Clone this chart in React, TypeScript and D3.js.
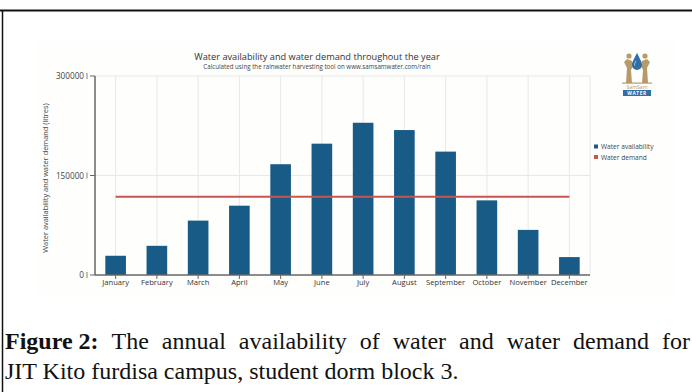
import React, { useLayoutEffect, useRef, useState } from "react";
import * as d3 from "d3";

// Monthly figures (litres)
const months = [
  "January", "February", "March", "April", "May", "June",
  "July", "August", "September", "October", "November", "December",
];
const availability = [
  29000, 44000, 82000, 104500, 167000, 198000,
  229500, 218500, 186000, 112500, 68000, 27000,
];
const demand = [
  118000, 118000, 118000, 118000, 118000, 118000,
  118000, 118000, 118000, 118000, 118000, 118000,
];
const yTicks = [0, 150000, 300000];

const legendItems = [
  { label: "Water availability", color: "#185b86" },
  { label: "Water demand", color: "#c8554f" },
];

const captionLabel = "Figure 2:";
const captionLine1 = "The annual availability of water and water demand for";
const captionLine2 = "JIT Kito furdisa campus, student dorm block 3.";

const W = 692;
const H = 392;
const plot = { left: 95, right: 590, top: 76, bottom: 275 };
const sans = "'Open Sans', 'Noto Sans', sans-serif";
const serif = "'Liberation Serif', 'DejaVu Serif', serif";
const captionSize = 24;

export default function App() {
  const x = d3
    .scaleBand<string>()
    .domain(months)
    .range([plot.left, plot.right])
    .paddingInner(0.5)
    .paddingOuter(0.25);
  const y = d3.scaleLinear().domain([0, 300000]).range([plot.bottom, plot.top]);
  const cx = (m: string) => (x(m) ?? 0) + x.bandwidth() / 2;

  const demandLine = d3
    .line<number>()
    .x((_, i) => cx(months[i]))
    .y((d) => y(d))(demand);

  // justify the first caption line by widening the word gaps
  const labelRef = useRef<SVGTextElement>(null);
  const line1Ref = useRef<SVGTextElement>(null);
  const [line1X, setLine1X] = useState(100);
  const [wordGap, setWordGap] = useState(0);
  useLayoutEffect(() => {
    const lab = labelRef.current;
    const l1 = line1Ref.current;
    if (!lab || !l1) return;
    const labW = lab.getComputedTextLength();
    const spaceW = captionSize * 0.25;
    const natural = l1.getComputedTextLength();
    const gaps = captionLine1.split(" ").length; // gap after label + inner gaps
    const extra = Math.max(0, (690 - 5 - labW - natural - spaceW) / gaps);
    setLine1X(5 + labW + spaceW + extra);
    setWordGap(extra);
  }, []);

  return (
    <svg
      width={W}
      height={H}
      viewBox={`0 0 ${W} ${H}`}
      style={{ position: "absolute", left: 0, top: 0, background: "#fff" }}
    >
      {/* figure frame */}
      <line x1={0} x2={W} y1={10.5} y2={10.5} stroke="#111" strokeWidth={2} />
      <line x1={2.5} x2={2.5} y1={10} y2={H} stroke="#111" strokeWidth={1.5} />

      {/* chart panel background */}
      <rect x={36} y={40} width={640} height={258} fill="#fefefd" />

      {/* titles */}
      <text x={317} y={60} textAnchor="middle" fontFamily={sans} fontSize={9.2} fill="#333">
        Water availability and water demand throughout the year
      </text>
      <text x={317} y={68.5} textAnchor="middle" fontFamily={sans} fontSize={6.2} fill="#444">
        Calculated using the rainwater harvesting tool on www.samsamwater.com/rain
      </text>

      {/* grid */}
      <g stroke="#e8e8e8" strokeWidth={1}>
        {yTicks.filter((t) => t > 0).map((t) => (
          <line key={t} x1={plot.left} x2={plot.right} y1={y(t)} y2={y(t)} />
        ))}
        {months.map((m) => (
          <line key={m} x1={cx(m)} x2={cx(m)} y1={plot.top} y2={plot.bottom} />
        ))}
        <line x1={plot.right} x2={plot.right} y1={plot.top} y2={plot.bottom} />
      </g>

      {/* bars */}
      {months.map((m, i) => (
        <rect
          key={m}
          x={x(m)}
          y={y(availability[i])}
          width={x.bandwidth()}
          height={y(0) - y(availability[i])}
          fill="#185b86"
        />
      ))}

      {/* demand line */}
      <path d={demandLine ?? ""} fill="none" stroke="#c8554f" strokeWidth={2} />

      {/* axes */}
      <line x1={plot.left} x2={plot.left} y1={plot.top} y2={plot.bottom} stroke="#666" strokeWidth={1.5} />
      <line x1={plot.left} x2={plot.right} y1={plot.bottom} y2={plot.bottom} stroke="#666" strokeWidth={1.5} />
      {yTicks.map((t) => (
        <g key={t}>
          <line x1={plot.left - 5} x2={plot.left} y1={y(t)} y2={y(t)} stroke="#666" />
          <line x1={87} x2={87} y1={y(t) - 3} y2={y(t) + 3} stroke="#666" strokeWidth={0.8} />
          <text x={84} y={y(t) + 3} textAnchor="end" fontFamily={sans} fontSize={8.2} fill="#444">
            {t}
          </text>
        </g>
      ))}
      {months.map((m) => (
        <g key={m}>
          <line x1={cx(m)} x2={cx(m)} y1={plot.bottom} y2={plot.bottom + 4} stroke="#666" />
          <text x={cx(m)} y={285} textAnchor="middle" fontFamily={sans} fontSize={7.6} fill="#333">
            {m}
          </text>
        </g>
      ))}
      <text
        transform="translate(48,178) rotate(-90)"
        textAnchor="middle"
        fontFamily={sans}
        fontSize={7.4}
        fill="#444"
      >
        Water availability and water demand (litres)
      </text>

      {/* legend */}
      {legendItems.map((it, i) => (
        <g key={it.label} transform={`translate(594,${147 + i * 10.5})`}>
          <rect x={0} y={-2.5} width={4} height={4} fill={it.color} />
          <text x={7} y={2} fontFamily={sans} fontSize={6.6} fill="#444">
            {it.label}
          </text>
        </g>
      ))}

      {/* SamSam Water logo */}
      <g>
        <circle cx={629} cy={56} r={2.6} fill="#b89a68" />
        <circle cx={645} cy={56} r={2.6} fill="#b89a68" />
        <path
          d="M626,83 L627,68 L624,62 L627,59 L632,61 L633,66 L631,70 L632,83 Z"
          fill="#b89a68"
        />
        <path
          d="M648,83 L647,68 L650,62 L647,59 L642,61 L641,66 L643,70 L642,83 Z"
          fill="#b89a68"
        />
        <path d="M637,53 C634,59 632,62 632,65 A5,5 0 0 0 642,65 C642,62 640,59 637,53 Z" fill="#2f6fa6" />
        <path d="M636,61 C635,63 634.5,64 634.5,65.5" stroke="#cfe2f3" strokeWidth={0.8} fill="none" />
        <rect x={622} y={82.5} width={30} height={1.2} fill="#b89a68" />
        <text x={637} y={89} textAnchor="middle" fontFamily={sans} fontSize={5.2} fill="#b89a68">
          SamSam
        </text>
        <rect x={623} y={90} width={28} height={6} fill="#2f6fa6" />
        <text x={637} y={94.8} textAnchor="middle" fontFamily={sans} fontSize={4.8} fontWeight="bold" fill="#fff" letterSpacing={0.6}>
          WATER
        </text>
      </g>

      {/* caption */}
      <text ref={labelRef} x={5} y={349} fontFamily={serif} fontSize={captionSize} fontWeight="bold" fill="#111">
        {captionLabel}
      </text>
      <text
        ref={line1Ref}
        x={line1X}
        y={349}
        fontFamily={serif}
        fontSize={captionSize}
        fill="#111"
        style={{ wordSpacing: `${wordGap}px` }}
      >
        {captionLine1}
      </text>
      <text x={5} y={379} fontFamily={serif} fontSize={captionSize} fill="#111">
        {captionLine2}
      </text>
    </svg>
  );
}
